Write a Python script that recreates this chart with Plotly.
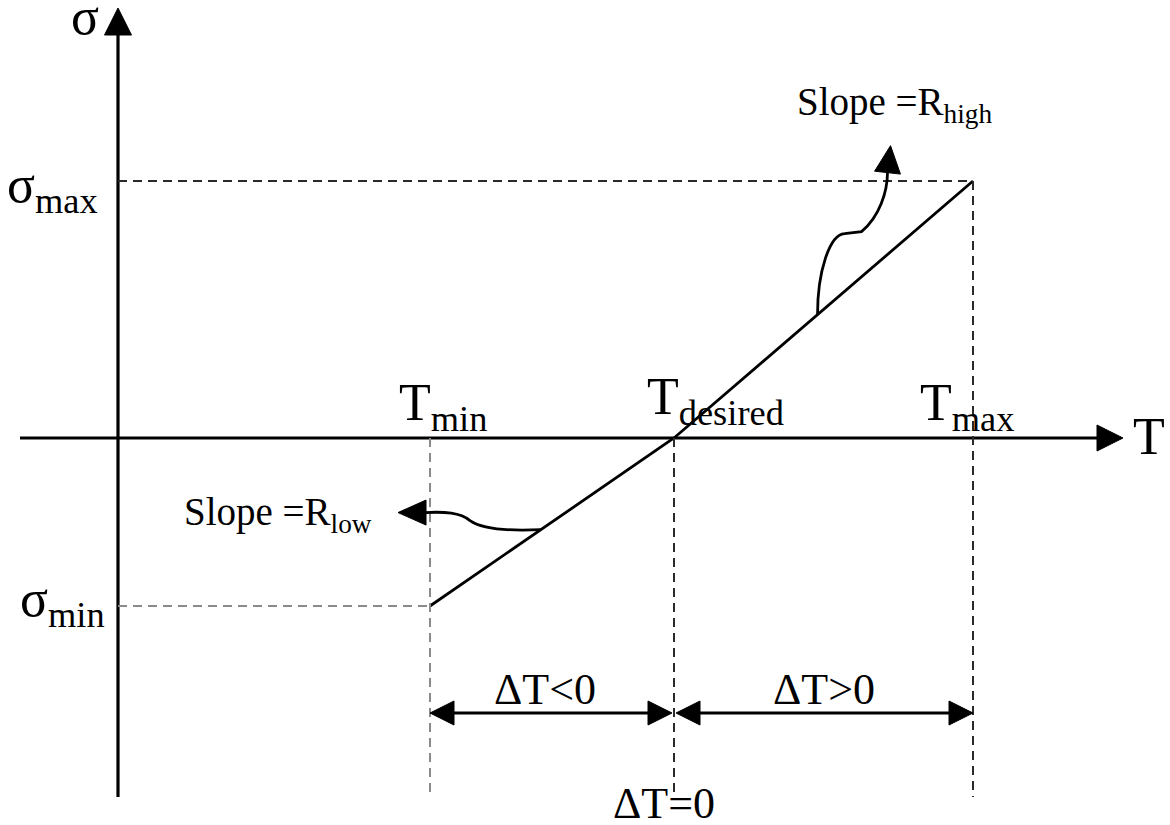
import plotly.graph_objects as go

# ---- data (schematic units: 1 unit = 100 px) ----
T_labels = ["T<sub>min</sub>", "T<sub>desired</sub>", "T<sub>max</sub>"]
T_values = [3.12, 5.56, 8.55]          # T_min, T_desired, T_max
sigma_values = [-1.68, 0.0, 2.57]      # sigma_min, 0, sigma_max
sigma_labels = ["σ<sub>min</sub>", "σ<sub>max</sub>"]
delta_labels = ["ΔT<0", "ΔT>0", "ΔT=0"]
slope_labels = ["Slope =R<sub>low</sub>", "Slope =R<sub>high</sub>"]

W, H = 1170, 825
OX, OY = 118, 438   # pixel position of origin
S = 100.0           # px per unit


def P(px, py):
    return ((px - OX) / S, (OY - py) / S)


def tri(tip, base, hw):
    (tx, ty), (bx, by) = tip, base
    dx, dy = tx - bx, ty - by
    L = (dx * dx + dy * dy) ** 0.5
    nx, ny = -dy / L * hw, dx / L * hw
    return f"M {tx},{ty} L {bx+nx},{by+ny} L {bx-nx},{by-ny} Z"


FONT = "Liberation Serif, Times New Roman, serif"
fig = go.Figure()

T_min, T_des, T_max = T_values
s_min, s_zero, s_max = sigma_values

# main characteristic line
fig.add_trace(go.Scatter(x=T_values, y=sigma_values, mode="lines",
                         line=dict(color="black", width=2.8),
                         hoverinfo="skip", showlegend=False))

shapes = []
# axes
x_left = P(20, 0)[0]
x_tip = P(1123, 0)[0]
y_bot = P(0, 797)[1]
y_tip = P(0, 8)[1]
ah_len, ah_hw = 0.26, 0.13
shapes.append(dict(type="line", x0=x_left, y0=0, x1=x_tip - ah_len + 0.02, y1=0,
                   line=dict(color="black", width=3.2)))
shapes.append(dict(type="path", path=tri((x_tip, 0), (x_tip - ah_len, 0), ah_hw),
                   fillcolor="black", line=dict(color="black", width=1)))
shapes.append(dict(type="line", x0=0, y0=y_bot, x1=0, y1=y_tip - 0.27 + 0.02,
                   line=dict(color="black", width=3.2)))
shapes.append(dict(type="path", path=tri((0, y_tip), (0, y_tip - 0.27), 0.135),
                   fillcolor="black", line=dict(color="black", width=1)))

# dashed guides
dash_bot = P(0, 797)[1]
dark = "#2a2a2a"
light = "#8a8a8a"
dsh = "9px,6px"
shapes += [
    dict(type="line", x0=0, y0=s_max, x1=T_max, y1=s_max, line=dict(color=dark, width=2, dash=dsh)),
    dict(type="line", x0=T_max, y0=s_max, x1=T_max, y1=dash_bot, line=dict(color=dark, width=2, dash=dsh)),
    dict(type="line", x0=0, y0=s_min, x1=T_min, y1=s_min, line=dict(color=light, width=2, dash=dsh)),
    dict(type="line", x0=T_min, y0=0, x1=T_min, y1=dash_bot, line=dict(color=light, width=2, dash=dsh)),
    dict(type="line", x0=T_des, y0=0, x1=T_des, y1=dash_bot, line=dict(color=dark, width=2, dash=dsh)),
]

# bottom double arrows
yb = P(0, 713)[1]
al, ahw = 0.24, 0.12
for a, b in [(T_min, T_des - 0.02), (T_des + 0.02, T_max)]:
    shapes.append(dict(type="line", x0=a + al - 0.02, y0=yb, x1=b - al + 0.02, y1=yb,
                       line=dict(color="black", width=3.2)))
    shapes.append(dict(type="path", path=tri((a, yb), (a + al, yb), ahw),
                       fillcolor="black", line=dict(color="black", width=1)))
    shapes.append(dict(type="path", path=tri((b, yb), (b - al, yb), ahw),
                       fillcolor="black", line=dict(color="black", width=1)))

# curved slope pointers (anchored on the line segments)
fh = 0.48
A = (T_des + fh * (T_max - T_des), s_zero + fh * (s_max - s_zero))
fl = 0.455
B = (T_min + fl * (T_des - T_min), s_min + fl * (s_zero - s_min))


def off(pt, dx, dy):  # dx, dy in px (dy downward)
    return (pt[0] + dx / S, pt[1] - dy / S)


def fmt(p):
    return f"{p[0]},{p[1]}"


hp = [off(A, 0, 0), off(A, 0, -43), off(A, 12, -80), off(A, 27, -81), off(A, 44, -83),
      off(A, 62, -98), off(A, 70, -123), off(A, 70, -143)]
path_h = (f"M {fmt(hp[0])} C {fmt(hp[1])} {fmt(hp[2])} {fmt(hp[3])} L {fmt(hp[4])} "
          f"C {fmt(hp[5])} {fmt(hp[6])} {fmt(hp[7])}")
shapes.append(dict(type="path", path=path_h, line=dict(color="black", width=2.8)))
shapes.append(dict(type="path", path=tri(off(A, 73, -169), off(A, 70, -142), 0.13),
                   fillcolor="black", line=dict(color="black", width=1)))

lp = [off(B, 0, 0), off(B, -41, 2), off(B, -61, -2), off(B, -71, -9),
      off(B, -81, -17), off(B, -96, -18), off(B, -116, -17)]
path_l = (f"M {fmt(lp[0])} C {fmt(lp[1])} {fmt(lp[2])} {fmt(lp[3])} "
          f"C {fmt(lp[4])} {fmt(lp[5])} {fmt(lp[6])}")
shapes.append(dict(type="path", path=path_l, line=dict(color="black", width=2.8)))
shapes.append(dict(type="path", path=tri(off(B, -143, -17), off(B, -115, -17), 0.125),
                   fillcolor="black", line=dict(color="black", width=1)))

fig.update_layout(shapes=shapes)

ann = []


def add_text(text, px, py, size, xanchor="center"):
    x, y = P(px, py)
    ann.append(dict(x=x, y=y, text=text, showarrow=False, xanchor=xanchor, yanchor="middle",
                    font=dict(family=FONT, size=size, color="black")))


big = 52
add_text("σ", 85, 16, big)
add_text("T", 1149, 436, big)
add_text(T_labels[0], 397, 406, big, "left")
add_text(T_labels[1], 645, 400, big, "left")
add_text(T_labels[2], 918, 406, big, "left")
add_text(sigma_labels[1], 100, 188, big, "right")
add_text(sigma_labels[0], 107, 602, big, "right")
add_text(slope_labels[1], 795, 104, 39, "left")
add_text(slope_labels[0], 182, 514, 39, "left")
add_text(delta_labels[0], 545, 689, 44)
add_text(delta_labels[1], 824, 689, 44)
add_text(delta_labels[2], 664, 803, 44)

fig.update_layout(
    annotations=ann,
    width=W, height=H, autosize=False,
    margin=dict(l=0, r=0, t=0, b=0),
    paper_bgcolor="white", plot_bgcolor="white",
    xaxis=dict(range=[(0 - OX) / S, (W - OX) / S], visible=False, fixedrange=True),
    yaxis=dict(range=[(OY - H) / S, OY / S], visible=False, fixedrange=True),
    showlegend=False,
)

fig.write_html("out.html", config={"displayModeBar": False},
               post_script="document.body.style.margin='0';document.body.style.overflow='hidden';")
